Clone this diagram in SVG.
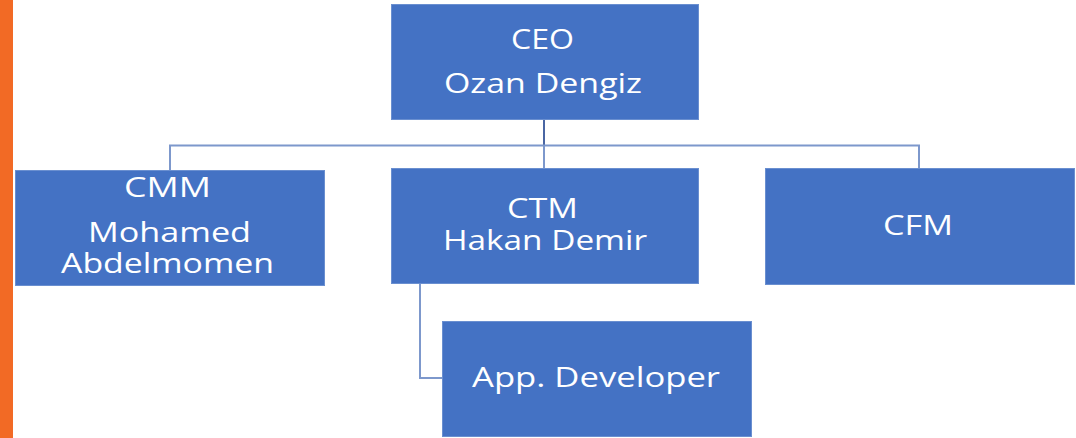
<svg xmlns="http://www.w3.org/2000/svg" width="1076" height="438" viewBox="0 0 1076 438">
  <style>
    .box { fill: #4472C4; stroke: #6A8FD0; stroke-width: 1; }
    .lbl { fill: #FFFFFF; font-family: "Open Sans", "Noto Sans", "DejaVu Sans", sans-serif; font-size: 28px; text-anchor: middle; }
    .link { fill: none; stroke: #7D98CC; stroke-width: 2; }
    .stem { fill: none; stroke: #4A66A3; stroke-width: 2; }
  </style>
  <rect x="0" y="0" width="1076" height="438" fill="#FFFFFF"/>
  <!-- side accent bar -->
  <rect x="0" y="0" width="13" height="438" fill="#F26A25"/>

  <g id="connectors">
    <line class="stem" x1="544" y1="119" x2="544" y2="145"/>
    <polyline class="link" points="170,170 170,145.5 919,145.5 919,168"/>
    <line class="link" x1="544" y1="145" x2="544" y2="168"/>
    <polyline class="link" points="420,283 420,378 442,378"/>
  </g>

  <g id="ceo">
    <rect class="box" x="391.5" y="4.5" width="307" height="115"/>
    <text class="lbl" x="542.5" y="49" textLength="63" lengthAdjust="spacingAndGlyphs">CEO</text>
    <text class="lbl" x="543" y="93" textLength="198" lengthAdjust="spacingAndGlyphs">Ozan Dengiz</text>
  </g>

  <g id="cmm">
    <rect class="box" x="15.5" y="170.5" width="309" height="115"/>
    <text class="lbl" x="167.5" y="197" textLength="87" lengthAdjust="spacingAndGlyphs">CMM</text>
    <text class="lbl" x="169.5" y="242" textLength="163" lengthAdjust="spacingAndGlyphs">Mohamed</text>
    <text class="lbl" x="167.5" y="273" textLength="213" lengthAdjust="spacingAndGlyphs">Abdelmomen</text>
  </g>

  <g id="ctm">
    <rect class="box" x="391.5" y="168.5" width="307" height="115"/>
    <text class="lbl" x="542.5" y="218" textLength="71" lengthAdjust="spacingAndGlyphs">CTM</text>
    <text class="lbl" x="545" y="250" textLength="204" lengthAdjust="spacingAndGlyphs">Hakan Demir</text>
  </g>

  <g id="cfm">
    <rect class="box" x="765.5" y="168.5" width="309" height="116"/>
    <text class="lbl" x="918" y="235" textLength="70" lengthAdjust="spacingAndGlyphs">CFM</text>
  </g>

  <g id="app-developer">
    <rect class="box" x="442.5" y="321.5" width="309" height="115"/>
    <text class="lbl" x="596" y="387" textLength="248" lengthAdjust="spacingAndGlyphs">App. Developer</text>
  </g>
</svg>
